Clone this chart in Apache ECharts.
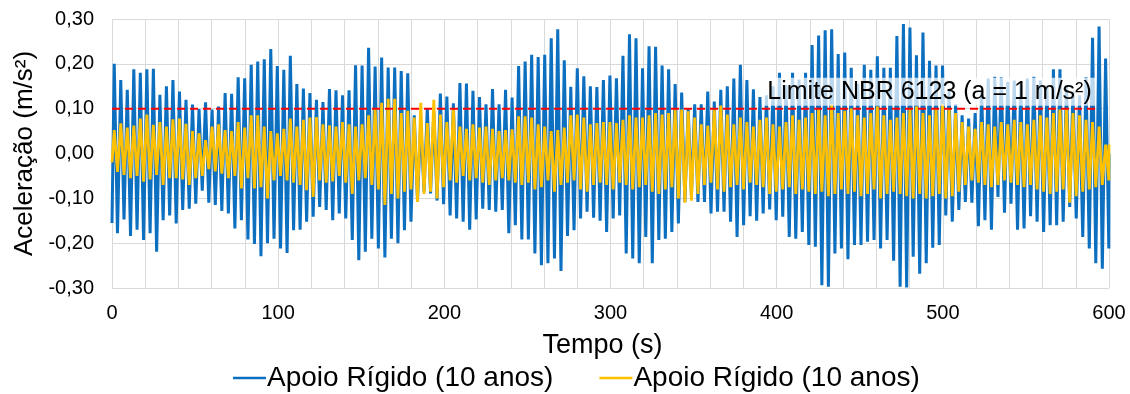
<!DOCTYPE html>
<html>
<head>
<meta charset="utf-8">
<script src="https://cdn.jsdelivr.net/npm/echarts@6/dist/echarts.min.js"></script>
<style>html,body{margin:0;padding:0;background:#fff;}#c{width:1130px;height:394px;}</style>
</head>
<body>
<div id="c"></div>
<script>
// ---- data ----
const seriesNames = ['Apoio Rígido (10 anos)', 'Apoio Rígido (10 anos)\u200B'];
const xTicks = [0, 100, 200, 300, 400, 500, 600];
const yTicks = [-0.3, -0.2, -0.1, 0, 0.1, 0.2, 0.3];
const limitValue = 0.1;
const limitSpan = [0, 592];
const limitText = 'Limite NBR 6123 (a = 1 m/s²)';
const limitLabelAt = [492, 0.138];

// sampling clock of the oscillation (s)
const PERIOD = 3.925, TOP_T0 = 1.35, TROUGH_T0 = 3.3, T_END = 600;

const blueFirst = -0.155, blueLast = 0.0;
const blueTops = [
0.200,0.164,0.142,0.188,0.180,0.188,0.189,0.131,0.150,0.164,
0.138,0.120,0.109,0.099,0.114,0.098,0.105,0.135,0.133,0.170,
0.168,0.198,0.205,0.210,0.233,0.195,0.187,0.218,0.155,0.145,
0.135,0.120,0.115,0.144,0.141,0.130,0.141,0.197,0.196,0.236,
0.194,0.214,0.192,0.192,0.184,0.179,0.085,0.070,0.100,0.093,
0.134,0.127,0.112,0.157,0.156,0.140,0.126,0.110,0.144,0.110,
0.142,0.125,0.195,0.205,0.220,0.215,0.220,0.257,0.277,0.208,
0.149,0.190,0.172,0.150,0.148,0.164,0.174,0.168,0.218,0.266,
0.257,0.190,0.239,0.238,0.196,0.188,0.155,0.136,0.100,0.110,
0.110,0.138,0.116,0.142,0.150,0.167,0.198,0.164,0.143,0.126,
0.130,0.150,0.180,0.152,0.180,0.165,0.180,0.242,0.263,0.275,
0.277,0.222,0.225,0.191,0.156,0.198,0.187,0.217,0.191,0.191,
0.262,0.289,0.281,0.219,0.270,0.207,0.196,0.196,0.140,0.110,
0.085,0.078,0.090,0.138,0.167,0.171,0.170,0.160,0.163,0.156,
0.167,0.171,0.163,0.152,0.188,0.188,0.152,0.138,0.130,0.170,
0.258,0.283,0.212];
const blueTroughs = [
-0.178,-0.147,-0.184,-0.170,-0.193,-0.178,-0.219,-0.149,-0.138,-0.156,
-0.126,-0.123,-0.112,-0.083,-0.110,-0.115,-0.128,-0.134,-0.167,-0.149,
-0.192,-0.202,-0.229,-0.200,-0.190,-0.212,-0.222,-0.171,-0.170,-0.152,
-0.141,-0.119,-0.126,-0.149,-0.134,-0.145,-0.193,-0.238,-0.219,-0.190,
-0.212,-0.232,-0.190,-0.200,-0.171,-0.152,-0.105,-0.085,-0.089,-0.105,
-0.113,-0.138,-0.145,-0.152,-0.170,-0.147,-0.123,-0.126,-0.130,-0.126,
-0.178,-0.160,-0.192,-0.192,-0.223,-0.249,-0.245,-0.234,-0.262,-0.184,
-0.171,-0.145,-0.130,-0.143,-0.150,-0.175,-0.145,-0.138,-0.223,-0.234,
-0.245,-0.186,-0.245,-0.193,-0.190,-0.175,-0.156,-0.108,-0.093,-0.108,
-0.108,-0.134,-0.130,-0.130,-0.152,-0.186,-0.160,-0.140,-0.150,-0.134,
-0.125,-0.149,-0.141,-0.186,-0.190,-0.175,-0.204,-0.208,-0.294,-0.297,
-0.223,-0.212,-0.236,-0.204,-0.204,-0.197,-0.193,-0.212,-0.193,-0.239,
-0.297,-0.299,-0.230,-0.268,-0.245,-0.210,-0.204,-0.138,-0.152,-0.126,
-0.108,-0.110,-0.162,-0.149,-0.170,-0.097,-0.132,-0.112,-0.170,-0.167,
-0.140,-0.152,-0.175,-0.160,-0.160,-0.152,-0.119,-0.145,-0.186,-0.212,
-0.245,-0.257,-0.212];

const yellowFirst = -0.02, yellowLast = 0.02;
const yellowTops = [
0.052,0.067,0.058,0.062,0.078,0.087,0.064,0.070,0.060,0.076,
0.078,0.066,0.050,0.045,0.030,0.060,0.065,0.052,0.050,0.070,
0.058,0.085,0.085,0.060,0.050,0.045,0.055,0.078,0.060,0.075,
0.080,0.081,0.065,0.063,0.060,0.070,0.065,0.060,0.065,0.085,
0.100,0.113,0.122,0.122,0.090,0.095,0.080,0.113,0.068,0.120,
0.087,0.070,0.098,0.060,0.055,0.065,0.058,0.060,0.055,0.050,
0.052,0.054,0.083,0.083,0.080,0.065,0.060,0.050,0.052,0.058,
0.085,0.087,0.080,0.065,0.068,0.070,0.070,0.068,0.075,0.085,
0.080,0.080,0.085,0.090,0.087,0.090,0.098,0.098,0.094,0.080,
0.065,0.062,0.098,0.107,0.087,0.065,0.080,0.070,0.060,0.075,
0.080,0.065,0.060,0.070,0.085,0.075,0.080,0.090,0.100,0.085,
0.110,0.090,0.095,0.100,0.085,0.080,0.090,0.105,0.085,0.075,
0.080,0.090,0.100,0.105,0.090,0.085,0.100,0.110,0.100,0.090,
0.070,0.060,0.055,0.070,0.065,0.060,0.070,0.065,0.075,0.070,
0.065,0.075,0.085,0.080,0.090,0.098,0.100,0.090,0.085,0.075,
0.070,0.060,0.020];
const yellowTroughs = [
-0.041,-0.048,-0.055,-0.050,-0.063,-0.058,-0.048,-0.070,-0.055,-0.055,
-0.058,-0.070,-0.055,-0.050,-0.035,-0.040,-0.045,-0.055,-0.050,-0.078,
-0.055,-0.078,-0.075,-0.100,-0.060,-0.050,-0.060,-0.065,-0.070,-0.082,
-0.097,-0.060,-0.065,-0.062,-0.050,-0.065,-0.090,-0.060,-0.055,-0.070,
-0.080,-0.115,-0.090,-0.100,-0.085,-0.080,-0.108,-0.090,-0.085,-0.100,
-0.075,-0.060,-0.065,-0.050,-0.060,-0.055,-0.065,-0.070,-0.060,-0.055,
-0.060,-0.065,-0.070,-0.065,-0.080,-0.075,-0.060,-0.085,-0.070,-0.065,
-0.060,-0.080,-0.085,-0.070,-0.065,-0.070,-0.080,-0.065,-0.070,-0.080,
-0.075,-0.070,-0.085,-0.090,-0.080,-0.075,-0.100,-0.110,-0.105,-0.090,
-0.070,-0.065,-0.080,-0.085,-0.075,-0.070,-0.080,-0.065,-0.070,-0.075,
-0.090,-0.085,-0.080,-0.075,-0.090,-0.080,-0.085,-0.090,-0.085,-0.095,
-0.090,-0.080,-0.090,-0.085,-0.095,-0.090,-0.080,-0.100,-0.090,-0.085,
-0.090,-0.095,-0.100,-0.090,-0.100,-0.095,-0.090,-0.100,-0.095,-0.085,
-0.070,-0.060,-0.065,-0.070,-0.075,-0.070,-0.060,-0.065,-0.070,-0.075,
-0.070,-0.080,-0.085,-0.090,-0.085,-0.080,-0.110,-0.095,-0.085,-0.080,
-0.075,-0.070,-0.060];

// ---- build series points from the arrays ----
function buildSignal(first, tops, troughs, last) {
  const pts = [[0, first]];
  for (let k = 0; k < tops.length; k++) {
    pts.push([TOP_T0 + PERIOD * k, tops[k]]);
    pts.push([TROUGH_T0 + PERIOD * k, troughs[k]]);
  }
  pts.push([T_END, last]);
  return pts;
}
const blueData = buildSignal(blueFirst, blueTops, blueTroughs, blueLast);
const yellowData = buildSignal(yellowFirst, yellowTops, yellowTroughs, yellowLast);
const limitData = limitSpan.map(t => [t, limitValue]);

const FONT = '"Liberation Sans", Arial, sans-serif';
const chart = echarts.init(document.getElementById('c'), null, {renderer: 'canvas'});
chart.setOption({
  animation: false,
  backgroundColor: '#ffffff',
  grid: {left: 112, right: 21, top: 19, bottom: 106, containLabel: false},
  xAxis: {
    type: 'value', min: xTicks[0], max: xTicks[xTicks.length - 1], interval: 20,
    name: 'Tempo (s)', nameLocation: 'middle', nameGap: 44,
    nameTextStyle: {fontFamily: FONT, fontSize: 27, color: '#000', padding: [0, 16, 0, 0]},
    axisLine: {show: true, lineStyle: {color: '#d9d9d9'}},
    axisTick: {show: false},
    axisLabel: {
      fontFamily: FONT, fontSize: 20, color: '#000', margin: 15,
      formatter: v => (xTicks.indexOf(v) >= 0 ? String(v) : '')
    },
    splitLine: {show: true, lineStyle: {color: '#d9d9d9', width: 1}}
  },
  yAxis: {
    type: 'value', min: yTicks[0], max: yTicks[yTicks.length - 1], interval: 0.1,
    name: 'Aceleração (m/s²)', nameLocation: 'middle', nameGap: 74,
    nameTextStyle: {fontFamily: FONT, fontSize: 26, color: '#000'},
    axisLine: {show: false},
    axisTick: {show: false},
    axisLabel: {
      fontFamily: FONT, fontSize: 20, color: '#000', margin: 18,
      formatter: v => v.toFixed(2).replace('.', ',')
    },
    splitLine: {show: true, lineStyle: {color: '#d9d9d9', width: 1}}
  },
  legend: {
    bottom: -3, left: 228, itemGap: 46, itemWidth: 33, itemHeight: 2.5, icon: 'rect',
    data: seriesNames,
    formatter: n => n.replace('\u200B', ''),
    textStyle: {fontFamily: FONT, fontSize: 28, color: '#000', padding: [0, 0, 0, -4]}
  },
  series: [
    {
      name: seriesNames[0], type: 'line', data: blueData, showSymbol: false, symbol: 'none',
      lineStyle: {color: '#0C6FC0', width: 3}, itemStyle: {color: '#0C6FC0'}, z: 2
    },
    {
      name: seriesNames[1], type: 'line', data: yellowData, showSymbol: false, symbol: 'none',
      lineStyle: {color: '#FFC000', width: 2.8}, itemStyle: {color: '#FFC000'}, z: 3
    },
    {
      name: 'limite', type: 'line', data: limitData, showSymbol: false, symbol: 'none',
      lineStyle: {color: '#FF0000', width: 2, type: [8, 5]}, z: 4, silent: true,
      markPoint: {
        symbol: 'circle', symbolSize: 1, itemStyle: {color: 'rgba(0,0,0,0)'},
        data: [{coord: limitLabelAt}],
        label: {
          show: true, position: 'inside', formatter: limitText,
          fontFamily: FONT, fontSize: 25, color: '#000',
          backgroundColor: 'rgba(255,255,255,0.72)', padding: [2, 4, 1, 4]
        }
      }
    }
  ]
});
</script>
</body>
</html>
